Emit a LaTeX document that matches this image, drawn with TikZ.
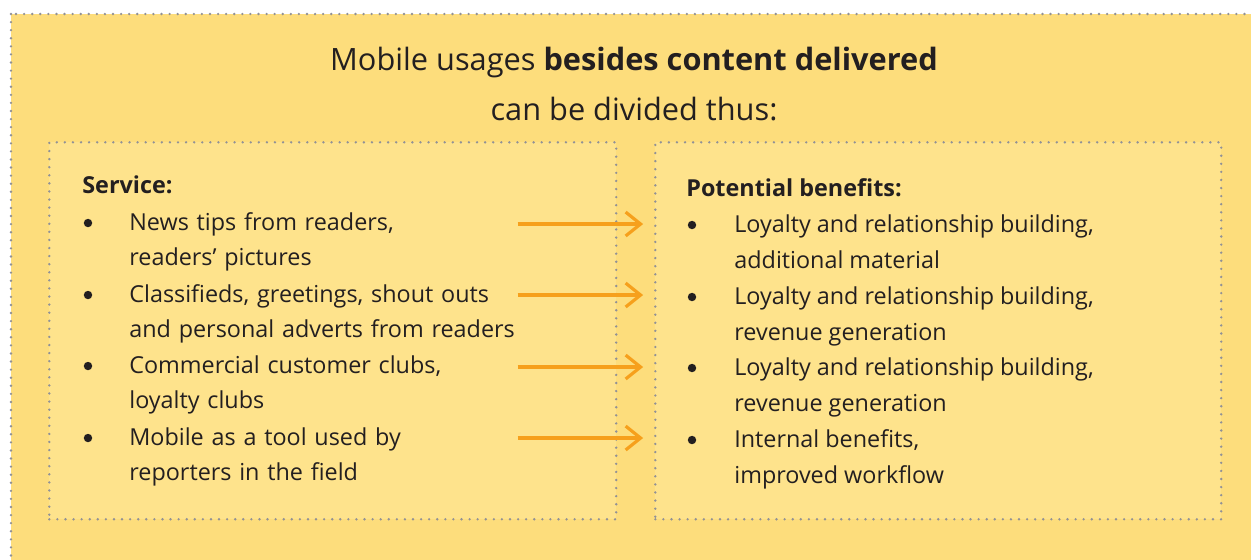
\documentclass[tikz,border=0pt]{standalone}
\usepackage{fontspec}
\setmainfont{Open Sans}
\usetikzlibrary{arrows.meta,positioning,calc}
\definecolor{panelyellow}{RGB}{253,221,124}
\definecolor{boxyellow}{RGB}{254,227,140}
\definecolor{dotgray}{RGB}{145,145,150}
\definecolor{arroworange}{RGB}{246,160,28}
\definecolor{inkdark}{RGB}{35,31,32}
\newcommand{\itemfont}{\fontsize{13.3}{20.4}\selectfont\hyphenpenalty=10000\relax}

\begin{document}
\begin{tikzpicture}[x=0.02cm, y=-0.02cm,
    dotline/.style={draw=dotgray, line width=1.5pt, line cap=round, dash pattern=on 0pt off 4.6pt},
    panel/.style={dotline, fill=boxyellow, rectangle, anchor=north west, inner sep=0pt},
    title/.style={font=\fontsize{17.5}{28.3}\selectfont, text=inkdark, align=center, anchor=base, inner sep=0pt},
    txt/.style={font=\itemfont, text=inkdark, align=left, anchor=base west, inner sep=0pt},
    bul/.style={circle, fill=inkdark, minimum size=4.8pt, inner sep=0pt},
    flow/.style={-{Straight Barb[length=8.5pt, width=13.6pt, line width=1.8pt]}, line width=1.9pt, draw=arroworange, shorten >=6.2pt}
]
    \clip (0,0) rectangle (1251,559);
    \useasboundingbox (0,0) rectangle (1251,559);
    % background panel, its right and bottom edges run off the page
    \fill[white] (0,0) rectangle (1251,559);
    \draw[dotline, fill=panelyellow] (11,14) rectangle (1270,580);

    % multi-line nodes without a text width sit on their last baseline
    \node[title] (head) at (634,120) {Mobile usages \textbf{besides content delivered}\\can be divided thus:};

    \node[panel, minimum width=11.34cm, minimum height=7.54cm] (srvbox) at (48,141) {};
    \node[panel, minimum width=11.32cm, minimum height=7.54cm] (benbox) at (654,141) {};

    % left column (text width: first baseline)
    \node[txt] (srvhead) at (82,193) {\textbf{Service:}};
    \node[txt, text width=7.76cm] (srv1) at (129,230) {News tips from readers,\\readers’ pictures};
    \node[txt, text width=7.76cm] (srv2) at (129,302) {Classifieds, greetings, shout outs\\and personal adverts from readers};
    \node[txt, text width=7.76cm] (srv3) at (129,373) {Commercial customer clubs,\\loyalty clubs};
    \node[txt, text width=7.76cm] (srv4) at (129,445) {Mobile as a tool used by\\reporters in the field};
    \node[bul] (sb1) at (88,223) {};
    \node[bul] (sb2) at (88,295) {};
    \node[bul] (sb3) at (88,366) {};
    \node[bul] (sb4) at (88,438) {};

    % right column
    \node[txt] (benhead) at (686,196) {\textbf{Potential benefits:}};
    \node[txt] (ben1) at (734,268) {Loyalty and relationship building,\\additional material};
    \node[txt] (ben2) at (734,340) {Loyalty and relationship building,\\revenue generation};
    \node[txt] (ben3) at (734,411) {Loyalty and relationship building,\\revenue generation};
    \node[txt] (ben4) at (734,483) {Internal benefits,\\improved workflow};
    \node[bul] (bb1) at (692,225) {};
    \node[bul] (bb2) at (692,297) {};
    \node[bul] (bb3) at (692,368) {};
    \node[bul] (bb4) at (692,440) {};

    \foreach \i/\y in {1/224,2/295,3/367,4/438}
        \draw[flow] (srv\i.east |- 0,\y) -- (benbox.west |- 0,\y);
\end{tikzpicture}
\end{document}
